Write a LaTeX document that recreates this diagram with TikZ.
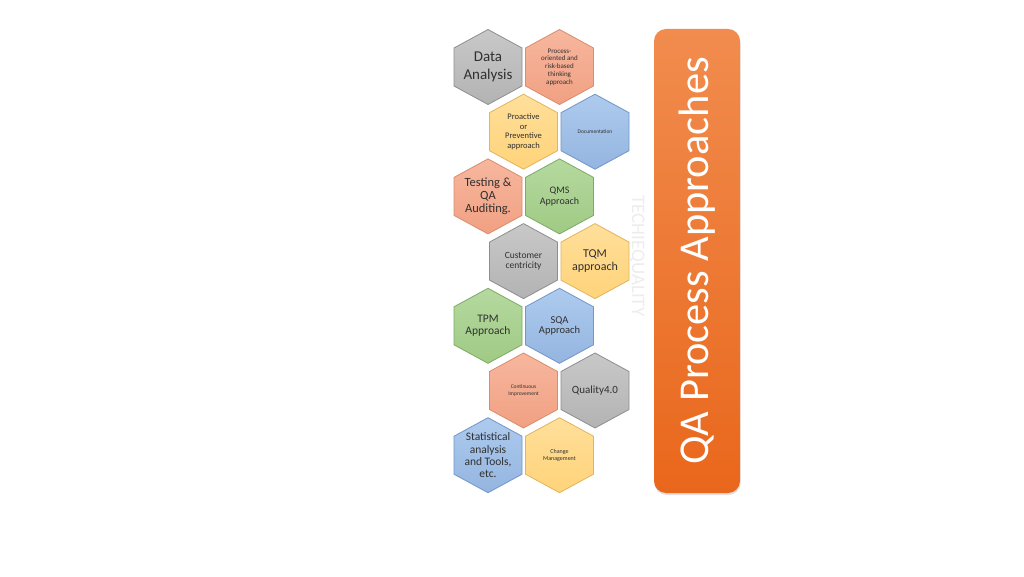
\documentclass[tikz,border=0pt]{standalone}
\usepackage{fontspec}
\setmainfont{Carlito}
\usetikzlibrary{shadows}
\definecolor{txt}{HTML}{303030}
\definecolor{grayT}{HTML}{C8C8C8}\definecolor{grayB}{HTML}{B3B3B3}\definecolor{grayD}{HTML}{8E8E8E}
\definecolor{salT}{HTML}{F7B79E}\definecolor{salB}{HTML}{F1A082}\definecolor{salD}{HTML}{D98C6E}
\definecolor{yelT}{HTML}{FFDF9A}\definecolor{yelB}{HTML}{FFD37A}\definecolor{yelD}{HTML}{E2B45C}
\definecolor{bluT}{HTML}{AECBEE}\definecolor{bluB}{HTML}{94B5E0}\definecolor{bluD}{HTML}{7196C8}
\definecolor{greT}{HTML}{B5D99F}\definecolor{greB}{HTML}{9FCA84}\definecolor{greD}{HTML}{7EAA66}
\definecolor{orT}{HTML}{F18C4E}\definecolor{orB}{HTML}{E9671C}
\tikzset{
  hexgray/.style={draw=grayD, top color=grayT, bottom color=grayB, line width=0.8pt},
  hexsal/.style={draw=salD, top color=salT, bottom color=salB, line width=0.8pt},
  hexyel/.style={draw=yelD, top color=yelT, bottom color=yelB, line width=0.8pt},
  hexblu/.style={draw=bluD, top color=bluT, bottom color=bluB, line width=0.8pt},
  hexgre/.style={draw=greD, top color=greT, bottom color=greB, line width=0.8pt},
  hextext/.style={text=txt, align=center, inner sep=0pt},
}
% #1 name, #2 x, #3 y, #4 style, #5 font size, #6 baselineskip, #7 text
\newcommand{\hexcell}[7]{%
  \path[#4] (#2,#3) ++(0,-37.5) -- ++(34,18.5) -- ++(0,38) -- ++(-34,18.5) -- ++(-34,-18.5) -- ++(0,-38) -- cycle;
  \node[hextext, font={\fontsize{#5}{#6}\selectfont}] (#1) at (#2,#3) {#7};
}
\begin{document}
\begin{tikzpicture}[x=1pt,y=1pt]
\useasboundingbox[fill=white] (0,0) rectangle (1024,576);
% row 1
\hexcell{da}{488}{509}{hexgray}{15}{18}{Data\\Analysis}
\hexcell{po}{559.5}{509}{hexsal}{7}{7.8}{Process-\\oriented and\\risk-based\\thinking\\approach}
% row 2
\hexcell{pa}{523.5}{444.3}{hexyel}{8.5}{9.4}{Proactive\\or\\Preventive\\approach}
\hexcell{doc}{595}{444.3}{hexblu}{5.5}{6.5}{Documentation}
% row 3
\hexcell{ta}{488}{379.6}{hexsal}{12.5}{12.8}{Testing \&\\QA\\Auditing.}
\hexcell{qms}{559.5}{379.6}{hexgre}{10}{10.5}{QMS\\Approach}
% row 4
\hexcell{cc}{523.5}{314.9}{hexgray}{9.5}{10.5}{Customer\\centricity}
\hexcell{tqm}{595}{314.9}{hexyel}{12}{12.5}{TQM\\approach}
% row 5
\hexcell{tpm}{488}{250.2}{hexgre}{11.5}{12.5}{TPM\\Approach}
\hexcell{sqa}{559.5}{250.2}{hexblu}{10.5}{10.5}{SQA\\Approach}
% row 6
\hexcell{ci}{523.5}{185.5}{hexsal}{5.5}{6.5}{Continuous\\Improvement}
\hexcell{q4}{595}{185.5}{hexgray}{11}{12}{Quality4.0}
% row 7
\hexcell{st}{488}{120.8}{hexblu}{11.5}{12.3}{Statistical\\analysis\\and Tools,\\etc.}
\hexcell{cm}{559.5}{120.8}{hexyel}{6}{7}{Change\\Management}
% watermark
\node[text=black!7, rotate=-90, font={\fontsize{19}{19}\selectfont}] (wm) at (637,320) {TECHIEQUALITY};
% title box
\path[rounded corners=12pt, top color=orT, bottom color=orB,
      drop shadow={opacity=0.25, shadow xshift=0.5pt, shadow yshift=-2pt}]
  (654,83) rectangle (740,547);
\node[text=white, rotate=90, font={\fontsize{42.5}{42.5}\selectfont}] (title) at (697,315) {QA Process Approaches};
\end{tikzpicture}
\end{document}
